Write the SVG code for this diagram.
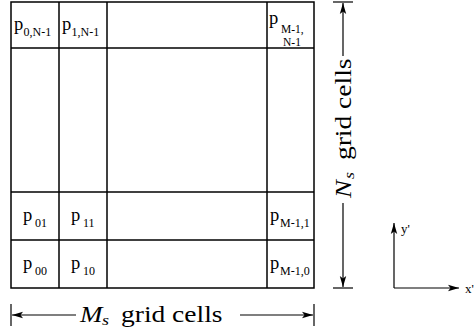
<svg xmlns="http://www.w3.org/2000/svg" width="475" height="335" viewBox="0 0 475 335">
<style>
.g{stroke:#000;stroke-width:1.5;fill:none}
.l{stroke:#000;stroke-width:1.2;fill:none}
.p{font-family:"Liberation Serif","Times New Roman",serif;font-size:18.5px;fill:#000}
.s{font-family:"Liberation Serif","Times New Roman",serif;font-size:12px;fill:#000}
.s2{font-family:"Liberation Serif","Times New Roman",serif;font-size:11.5px;fill:#000}
.ax{font-family:"Liberation Serif","Times New Roman",serif;font-size:13px;fill:#000}
.lb{font-family:"Liberation Serif","Times New Roman",serif;fill:#000}
</style>
<defs>
<marker id="ah" markerWidth="12" markerHeight="8" refX="11" refY="4" orient="auto" markerUnits="userSpaceOnUse">
<path d="M0,0.8 L11,4 L0,7.2 L2.5,4 Z" fill="#000"/>
</marker>
</defs>
<g id="grid">
<rect class="g" x="11" y="2" width="303" height="286"/>
<line class="g" x1="59" y1="2" x2="59" y2="288"/>
<line class="g" x1="107" y1="2" x2="107" y2="288"/>
<line class="g" x1="267" y1="2" x2="267" y2="288"/>
<line class="g" x1="11" y1="48" x2="314" y2="48"/>
<line class="g" x1="11" y1="192" x2="314" y2="192"/>
<line class="g" x1="11" y1="240" x2="314" y2="240"/>
</g>
<g id="cell-0-N1"><text class="p" x="14" y="30">p</text><text class="s" x="23.5" y="36">0,N-1</text></g>
<g id="cell-1-N1"><text class="p" x="62" y="30">p</text><text class="s" x="71.5" y="36">1,N-1</text></g>
<g id="cell-M1-N1"><text class="p" x="269" y="24">p</text><text class="s2" x="281" y="32.5">M-1,</text><text class="s2" x="283" y="46">N-1</text></g>
<g id="cell-0-1"><text class="p" x="23" y="221">p</text><text class="s" x="35" y="226.5">01</text></g>
<g id="cell-1-1"><text class="p" x="71" y="221">p</text><text class="s" x="83" y="226.5">11</text></g>
<g id="cell-M1-1"><text class="p" x="270" y="221">p</text><text class="s" x="280" y="226.5">M-1,1</text></g>
<g id="cell-0-0"><text class="p" x="23" y="269">p</text><text class="s" x="35" y="275">00</text></g>
<g id="cell-1-0"><text class="p" x="71" y="269">p</text><text class="s" x="83" y="275">10</text></g>
<g id="cell-M1-0"><text class="p" x="270" y="269">p</text><text class="s" x="280" y="275">M-1,0</text></g>
<g id="connectors">
<line class="l" x1="11" y1="304" x2="11" y2="326"/>
<line class="l" x1="314" y1="304" x2="314" y2="326"/>
<line class="l" x1="76" y1="315" x2="12" y2="315" marker-end="url(#ah)"/>
<line class="l" x1="240" y1="315" x2="313" y2="315" marker-end="url(#ah)"/>
<line class="l" x1="333" y1="2" x2="353" y2="2"/>
<line class="l" x1="333" y1="288" x2="353" y2="288"/>
<line class="l" x1="343" y1="56" x2="343" y2="3" marker-end="url(#ah)"/>
<line class="l" x1="343" y1="203" x2="343" y2="287" marker-end="url(#ah)"/>
<line class="l" x1="394" y1="288" x2="394" y2="223" marker-end="url(#ah)"/>
<line class="l" x1="394" y1="288" x2="459" y2="288" marker-end="url(#ah)"/>
</g>
<g id="label-Ms">
<g transform="translate(0,322) scale(1,0.82)">
<text class="lb" x="80" y="0" font-size="27" font-style="italic">M</text>
<text class="lb" x="102" y="4" font-size="18" font-style="italic">s</text>
<text class="lb" x="121" y="0" font-size="27.5">grid cells</text>
</g>
</g>
<g id="label-Ns">
<g transform="translate(351,198) rotate(-90) scale(1,0.82)">
<text class="lb" x="0" y="0" font-size="27" font-style="italic">N</text>
<text class="lb" x="19" y="4" font-size="18" font-style="italic">s</text>
<text class="lb" x="38" y="0" font-size="27.5">grid cells</text>
</g>
</g>
<g id="axis-labels"><text class="ax" x="401" y="233">y'</text><text class="ax" x="465" y="293">x'</text></g>
</svg>
